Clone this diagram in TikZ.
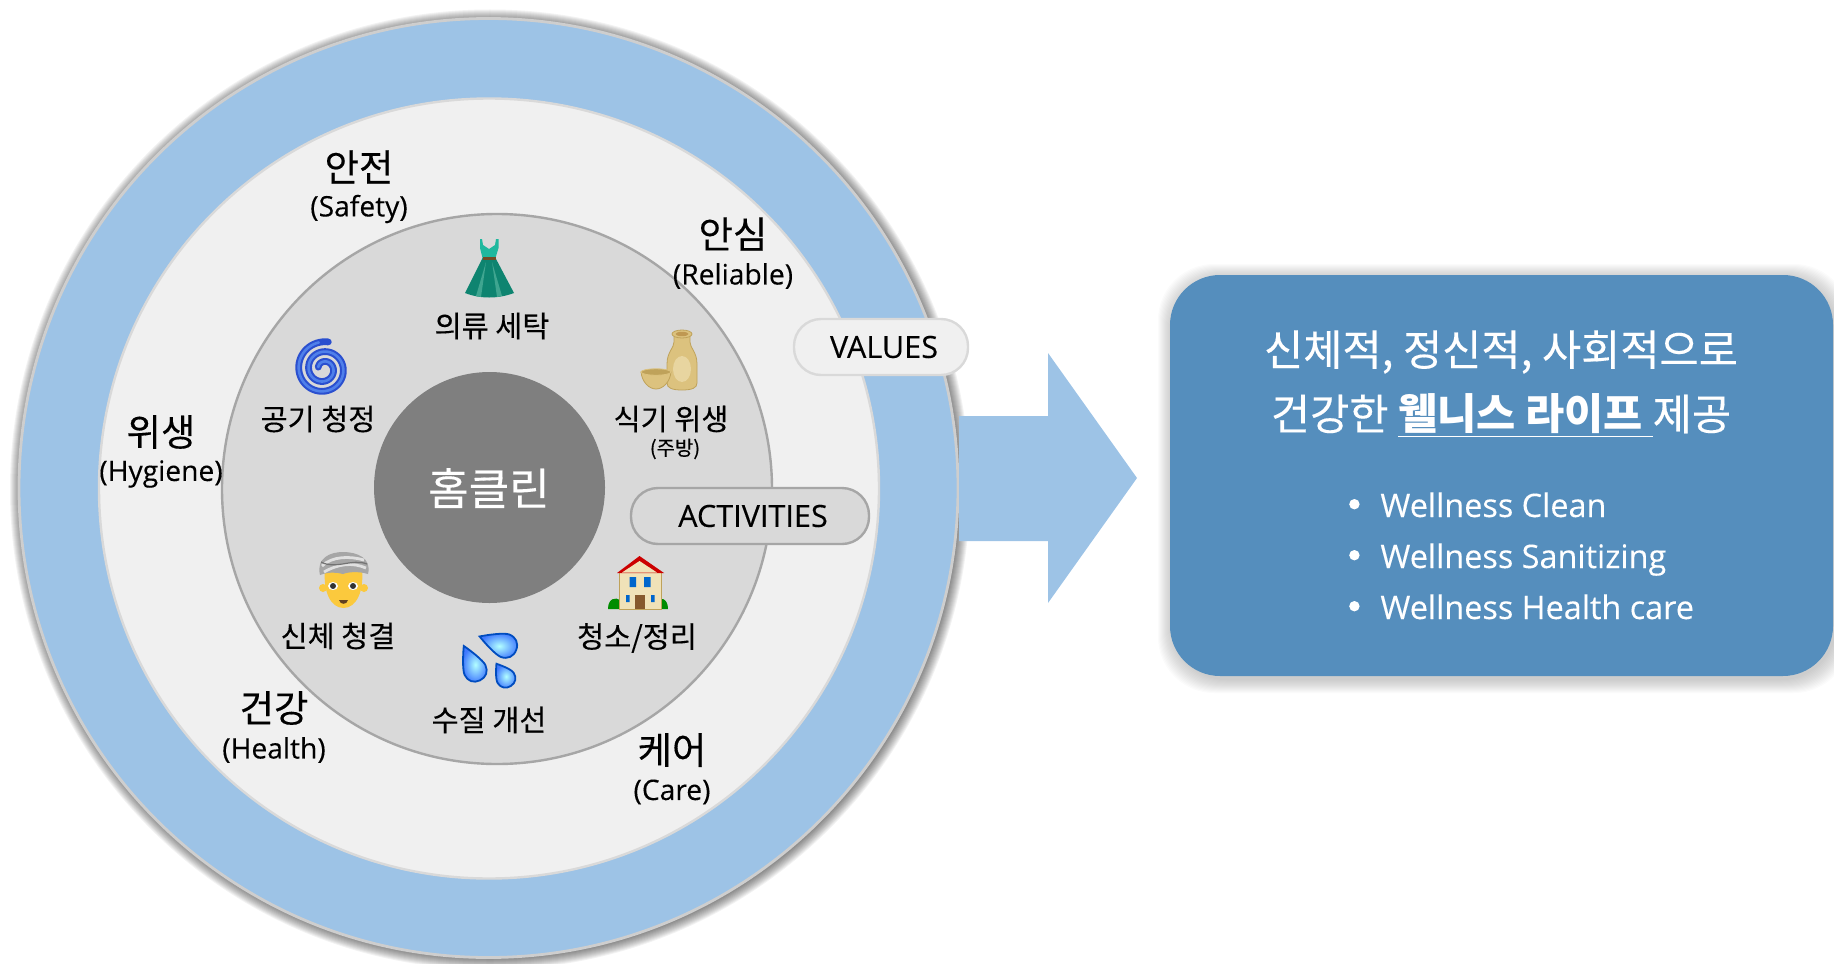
\documentclass[tikz,border=0pt]{standalone}
\usepackage{fontspec}
\setmainfont[FakeBold=0.2]{Open Sans}
\newfontfamily\krfont[FakeBold=0.3]{Noto Sans CJK KR}
\newfontfamily\krheavy{Noto Sans CJK KR}
\usetikzlibrary{positioning}

\definecolor{ringblue}{HTML}{9DC3E6}
\definecolor{ringlight}{HTML}{F0F0F0}
\definecolor{ringgrey}{HTML}{D9D9D9}
\definecolor{ringedge}{HTML}{A6A6A6}
\definecolor{coregrey}{HTML}{7F7F7F}
\definecolor{boxblue}{HTML}{558EBD}
\definecolor{dresstop}{HTML}{1FB89E}
\definecolor{dressskirt}{HTML}{0E8470}
\definecolor{dresspleat}{HTML}{3FA590}
\definecolor{clay}{HTML}{DCC27E}
\definecolor{clayedge}{HTML}{BFA25A}
\definecolor{clayhigh}{HTML}{F0E2B8}
\definecolor{skin}{HTML}{FBC93D}
\definecolor{spiraldark}{HTML}{2A4FCF}
\definecolor{spirallight}{HTML}{4F80EA}

\tikzset{
  valuekr/.style={font=\krfont\fontsize{18.7}{20}\selectfont,inner sep=0pt},
  valueen/.style={font=\fontsize{14.1}{16}\selectfont,inner sep=0pt},
  actlabel/.style={font=\krfont\fontsize{14.7}{16}\selectfont,inner sep=0pt},
  pill/.style={draw,line width=1.2pt,rounded corners=13.5pt,minimum height=28pt,font=\fontsize{15.3}{17}\selectfont,inner sep=0pt},
  boxtext/.style={text=white,font=\krfont\fontsize{21.3}{24}\selectfont,inner sep=0pt},
  bullettext/.style={text=white,font=\fontsize{16.2}{18}\selectfont,inner sep=0pt,anchor=base west},
  bulletdot/.style={circle,fill=white,inner sep=0pt,minimum size=5.2pt},
}

\begin{document}
\begin{tikzpicture}[x=0.5pt,y=-0.5pt]
\useasboundingbox (0,0) rectangle (1834,963);

% shadow of the rings
\foreach \r in {1,...,12} \fill[black,opacity=0.05] (490,489.5) circle (468+\r);
\fill[ringblue,draw=ringgrey!95!black,line width=1.4pt] (488.5,488) circle (469.5);

% arrow
\fill[ringblue] (959,416) -- (1048,416) -- (1048,353) -- (1137,478) -- (1048,603) -- (1048,541) -- (959,541) -- cycle;

% rings
\fill[ringlight,draw=ringgrey,line width=1.2pt] (489,488.5) circle (390);
\fill[ringgrey,draw=ringedge,line width=1.2pt] (497,489) circle (275);
\fill[coregrey] (489.5,487.5) circle (115.5);
\node[text=white,font=\krfont\fontsize{22}{24}\selectfont,inner sep=0pt] (core) at (489,488) {홈클린};

% outer labels
\foreach \name/\xv/\yv/\kr/\en in {safety/359/167/안전/Safety,reliable/733/234/안심/Reliable,hygiene/161/432/위생/Hygiene,health/274/708/건강/Health,care/672/750/케어/Care}
{
  \node[valuekr] (kr\name) at (\xv,\yv) {\kr};
  \node[valueen] (en\name) at (\xv,\yv+42) {(\en)};
}

% activity labels
\foreach \name/\xv/\yv/\kr in {laundry/492/326/의류 세탁,air/318/419/공기 청정,dish/671/419/식기 위생,body/338/636/신체 청결,clean/637/638/{청소/정리},water/489/720/수질 개선}
  \node[actlabel] (\name) at (\xv,\yv) {\kr};
\node[inner sep=0pt,font=\krfont\fontsize{10}{12}\selectfont] (kitchen) at (675,449) {(주방)};

% pills
\node[pill,fill=ringlight,draw=ringgrey,minimum width=87pt] (values) at (881,347) {\hspace{3pt}VALUES};
\node[pill,fill=ringgrey,draw=ringedge,minimum width=119pt] (activities) at (750,516) {\hspace{3pt}ACTIVITIES};

% dress
\fill[dressskirt] (482.5,258) -- (495.5,258) -- (514,293) .. controls (498,299) and (480,299) .. (465,293) -- cycle;
\fill[dresspleat] (486,262) -- (476,296) -- (481,297) -- cycle;
\fill[dresspleat] (492,262) -- (497,297) -- (502,296) -- cycle;
\fill[dresstop] (480,239) -- (482,239) -- (483,245) -- (489,249) -- (495,245) -- (496,239) -- (498.5,239) -- (498.5,248) -- (495.5,258) -- (482.5,258) -- (480,248) -- cycle;
\fill[brown!60!black] (482.5,257) rectangle (495.5,260);

% spiral
\draw[line width=3.4pt,spiraldark,line cap=round] plot[domain=80:880,samples=130,smooth] ({323.5+(27.5-0.0275*(\x-80))*cos(\x)},{369-(27.5-0.0275*(\x-80))*sin(\x)});
\draw[line width=1.3pt,spirallight,line cap=round] plot[domain=100:880,samples=130,smooth] ({323.5+(27.5-0.0275*(\x-80))*cos(\x)},{369-(27.5-0.0275*(\x-80))*sin(\x)});

% bottle and cup
\draw[fill=clay,draw=clayedge] (674,334) -- (674,342) .. controls (674,348) and (667,352) .. (667,364) -- (667,383) .. controls (667,388) and (672,390) .. (682,390) .. controls (692,390) and (697,388) .. (697,383) -- (697,364) .. controls (697,352) and (690,348) .. (690,342) -- (690,334) -- cycle;
\fill[clayhigh,opacity=0.6] (682,369) ellipse (9 and 13);
\draw[fill=clay,draw=clayedge] (682,334) ellipse (10 and 4);
\fill[clayedge!70!brown] (682,334) ellipse (6.5 and 2.2);
\draw[fill=clay,draw=clayedge] (641,372) .. controls (642,382) and (649,389) .. (656,389) .. controls (663,389) and (670,382) .. (671,372) -- cycle;
\draw[fill=clayedge,draw=clay] (656,372) ellipse (15 and 3.2);

% face with turban
\fill[skin] (323,588) circle (4) (364,588) circle (4);
\fill[skin] (325,570) .. controls (323,590) and (330,608) .. (343.5,608) .. controls (357,608) and (364,590) .. (362,570) -- cycle;
\fill[white] (333,586) ellipse (5 and 4) (353,586) ellipse (5 and 4);
\fill[black!80] (333,586) circle (3) (353,586) circle (3);
\fill[brown!50!black] (339,600) -- (348,600) .. controls (347,605) and (340,605) .. (339,600) -- cycle;
\fill[black!35] (320,575) .. controls (316,558) and (330,552) .. (343,552) .. controls (357,552) and (372,558) .. (368,574) .. controls (358,571) and (348,572) .. (343,574) .. controls (336,572) and (328,572) .. (320,575) -- cycle;
\draw[black!12,line width=1.4pt] (322,566) .. controls (332,556) and (350,556) .. (364,560);
\draw[black!12,line width=1.4pt] (324,572) .. controls (338,564) and (352,562) .. (366,568);
\draw[black!55,line width=0.6pt] (321,562) .. controls (336,570) and (352,558) .. (367,564);

% house
\fill[green!55!black] (608,609) .. controls (608,598) and (616,597) .. (620,600) -- (620,609) -- cycle;
\fill[green!55!black] (668,609) .. controls (668,598) and (660,597) .. (656,600) -- (656,609) -- cycle;
\draw[fill=clayhigh,draw=clayedge] (619.5,572) rectangle (661.5,609);
\fill[red!80!black] (639.5,556) -- (664,573) -- (617,573) -- cycle;
\fill[clayhigh] (639.5,561) -- (657,572.5) -- (622,572.5) -- cycle;
\fill[blue!50!cyan!80!black] (629.5,577) rectangle (636,587) (644,577) rectangle (650.5,587);
\fill[blue!50!cyan!80!black] (626,595) rectangle (629.5,602) (651,595) rectangle (654.5,602);
\fill[brown!70!black] (635,595) rectangle (645,609);

% droplets
\foreach \cx/\cy/\rr/\ang/\ll in {475/670/11.5/25/26.5,505/645.7/12/70/27,505.7/678/9.5/33/17}
  \draw[shift={(\cx,\cy)},rotate=\ang,line width=0.9pt,draw=blue!60!cyan!75!black,inner color=cyan!30!white,outer color=cyan!30!blue!75!white]
    (0,-\ll) .. controls (0.35*\rr,-0.75*\ll) and (\rr,-0.45*\rr) .. (\rr,0) .. controls (\rr,0.6*\rr) and (0.6*\rr,\rr) .. (0,\rr) .. controls (-0.6*\rr,\rr) and (-\rr,0.6*\rr) .. (-\rr,0) .. controls (-\rr,-0.45*\rr) and (-0.35*\rr,-0.75*\ll) .. (0,-\ll) -- cycle;

% result box
\foreach \r in {1,...,14} \fill[black,opacity=0.016,rounded corners=28pt] (1172-\r,278-\r) rectangle (1836+\r,679+\r);
\fill[boxblue,rounded corners=25pt] (1170,275) rectangle (1833,676);
\node[boxtext] (boxtitle) at (1501,352) {신체적, 정신적, 사회적으로};
\node[boxtext] (boxsub) at (1501,416) {건강한 {\krheavy\bfseries\underline{웰니스 라이프\ }}제공};

\foreach \name/\yv/\itemtext in {itemclean/517/Wellness Clean,itemsan/568/Wellness Sanitizing,itemcare/619/Wellness Health care}
{
  \node[bullettext] (\name) at (1380,\yv) {\itemtext};
  \node[bulletdot,left=10pt of \name.base west,yshift=6.4pt] (\name dot) {};
}

\end{tikzpicture}
\end{document}
